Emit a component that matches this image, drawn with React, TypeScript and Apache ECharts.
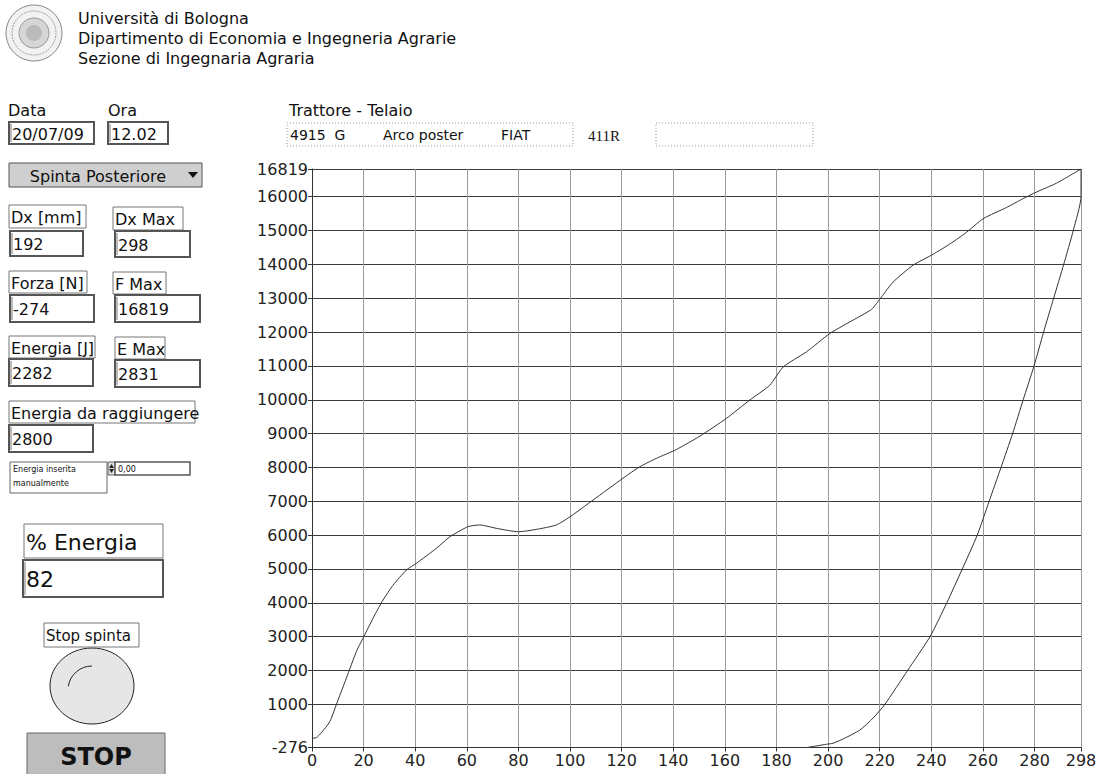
import React, { useEffect, useRef } from "react";
import * as echarts from "echarts";

// Loading branch (Dx [mm], Forza [N])
const dxLoad = [0, 1.7, 3.6, 6.9, 10.1, 13.3, 17.2, 20.4, 24.3, 27.5, 31.4, 36.6, 40.5, 48.2, 53.4, 60.5, 65, 71.5, 80, 87, 94.7, 100.5, 108.9, 120.5, 127, 133.5, 141.2, 150.3, 160.6, 169.6, 177.4, 182.6, 191.6, 200.7, 208.4, 216.8, 220.7, 225.2, 232.9, 240.7, 246.5, 253, 260.1, 269.1, 275.6, 280.8, 288.5, 298];
const forceLoad = [0, 15, 160, 490, 1130, 1770, 2560, 3050, 3640, 4080, 4520, 4970, 5170, 5610, 5950, 6250, 6300, 6200, 6100, 6170, 6300, 6570, 7035, 7680, 8020, 8270, 8530, 8925, 9450, 9990, 10430, 10970, 11415, 11960, 12300, 12670, 13040, 13480, 13975, 14300, 14570, 14910, 15350, 15680, 15945, 16140, 16400, 16819];
// Unloading branch
const dxUnload = [298, 298, 295, 291.3, 287.4, 283.5, 279.8, 275.6, 271.5, 267, 262.4, 257.8, 252, 246, 239.5, 230.8, 222, 217.5, 212.3, 205.8, 201.9, 199.4, 192];
const forceUnload = [16819, 16000, 15000, 14000, 13000, 12000, 11000, 10000, 9000, 8000, 7000, 6000, 5000, 4000, 3000, 2000, 1000, 600, 240, -25, -150, -180, -274];

const xTicks = [0, 20, 40, 60, 80, 100, 120, 140, 160, 180, 200, 220, 240, 260, 280, 298];
const yTicks = [-276, 1000, 2000, 3000, 4000, 5000, 6000, 7000, 8000, 9000, 10000, 11000, 12000, 13000, 14000, 15000, 16000, 16819];

const headerLines = ["Università di Bologna", "Dipartimento di Economia e Ingegneria Agrarie", "Sezione di Ingegnaria Agraria"];

const FONT = "'DejaVu Sans', Verdana, sans-serif";

function txt(x: number, y: number, text: string, size: number, extra: any = {}) {
  return {
    type: "text",
    style: {
      text,
      x,
      y,
      fill: "#111",
      font: `${extra.weight || "normal"} ${size}px ${extra.family || FONT}`,
      align: extra.align || "left",
      verticalAlign: "middle",
      textAlign: extra.align || "left",
      textVerticalAlign: "middle",
    },
    z: 10,
  };
}

function labelBox(x: number, y: number, w: number, h: number, text: string, size = 16) {
  return [
    { type: "rect", shape: { x, y, width: w, height: h }, style: { fill: "#fff", stroke: "#777", lineWidth: 1 }, z: 5 },
    txt(x + 2, y + h / 2 + 1, text, size),
  ];
}

function valueBox(x: number, y: number, w: number, h: number, text: string, size = 16) {
  return [
    { type: "rect", shape: { x, y, width: w, height: h }, style: { fill: "#fff", stroke: "#555", lineWidth: 2 }, z: 5 },
    { type: "line", shape: { x1: x + 2, y1: y + 2, x2: x + 2, y2: y + h - 2 }, style: { stroke: "#777", lineWidth: 1 }, z: 6 },
    txt(x + 3, y + h / 2 + 1, text, size),
  ];
}

export default function App() {
  const ref = useRef<HTMLDivElement>(null);
  useEffect(() => {
    const chart = echarts.init(ref.current!, null, { renderer: "svg" });
    const loadPts = dxLoad.map((x, i) => [x, forceLoad[i]]);
    const unloadPts = dxUnload.map((x, i) => [x, forceUnload[i]]);

    const g: any[] = [];
    // logo
    g.push({ type: "circle", shape: { cx: 34, cy: 33, r: 28 }, style: { fill: "#f2f2f2", stroke: "#888", lineWidth: 1 } });
    g.push({ type: "circle", shape: { cx: 34, cy: 33, r: 22 }, style: { fill: "none", stroke: "#999", lineWidth: 1, lineDash: [2, 1] } });
    g.push({ type: "circle", shape: { cx: 34, cy: 33, r: 15 }, style: { fill: "#d6d6d6", stroke: "#999", lineWidth: 1 } });
    g.push({ type: "circle", shape: { cx: 34, cy: 33, r: 8 }, style: { fill: "#bbb", stroke: "none" } });
    headerLines.forEach((t, i) => g.push(txt(78, 18 + i * 20, t, 16)));

    // date / time
    g.push(txt(8, 110, "Data", 16));
    g.push(txt(108, 110, "Ora", 16));
    g.push(...valueBox(9, 122, 85, 22, "20/07/09", 16));
    g.push(...valueBox(108, 122, 60, 22, "12.02", 16));

    // tractor
    g.push(txt(289, 110, "Trattore - Telaio", 16));
    g.push({ type: "rect", shape: { x: 287, y: 123, width: 286, height: 23 }, style: { fill: "#fff", stroke: "#999", lineWidth: 1, lineDash: [1, 2] } });
    g.push({ type: "rect", shape: { x: 656, y: 123, width: 157, height: 23 }, style: { fill: "#fff", stroke: "#999", lineWidth: 1, lineDash: [1, 2] } });
    g.push(txt(290, 135, "4915  G", 14));
    g.push(txt(383, 135, "Arco poster", 14));
    g.push(txt(501, 135, "FIAT", 14));
    g.push(txt(588, 136, "411R", 15, { family: "'Liberation Serif', serif" }));

    // dropdown
    g.push({ type: "rect", shape: { x: 9, y: 163, width: 193, height: 24 }, style: { fill: "#cfcfcf", stroke: "#555", lineWidth: 1 } });
    g.push(txt(98, 176, "Spinta Posteriore", 16, { align: "center" }));
    g.push({ type: "polygon", shape: { points: [[188, 172], [198, 172], [193, 178]] }, style: { fill: "#111" } });

    // numeric fields
    g.push(...labelBox(9, 205, 77, 23, "Dx [mm]"));
    g.push(...labelBox(113, 207, 70, 23, "Dx Max"));
    g.push(...valueBox(10, 231, 73, 25, "192"));
    g.push(...valueBox(115, 231, 75, 26, "298"));
    g.push(...labelBox(9, 271, 78, 22, "Forza [N]"));
    g.push(...labelBox(113, 272, 53, 22, "F Max"));
    g.push(...valueBox(10, 295, 84, 27, "-274"));
    g.push(...valueBox(115, 295, 85, 27, "16819"));
    g.push(...labelBox(9, 336, 86, 22, "Energia [J]"));
    g.push(...labelBox(115, 337, 50, 22, "E Max"));
    g.push(...valueBox(9, 359, 84, 27, "2282"));
    g.push(...valueBox(115, 360, 85, 27, "2831"));
    g.push(...labelBox(9, 401, 186, 22, "Energia da raggiungere"));
    g.push(...valueBox(9, 425, 84, 27, "2800"));

    // manual energy
    g.push({ type: "rect", shape: { x: 10, y: 462, width: 97, height: 31 }, style: { fill: "#fff", stroke: "#666", lineWidth: 1 } });
    g.push(txt(13, 469, "Energia inserita", 8));
    g.push(txt(13, 483, "manualmente", 8));
    g.push({ type: "rect", shape: { x: 108, y: 462, width: 7, height: 13 }, style: { fill: "#ddd", stroke: "#666", lineWidth: 1 } });
    g.push({ type: "polygon", shape: { points: [[109, 468], [114, 468], [111.5, 464]] }, style: { fill: "#222" } });
    g.push({ type: "polygon", shape: { points: [[109, 469], [114, 469], [111.5, 473]] }, style: { fill: "#222" } });
    g.push({ type: "rect", shape: { x: 115, y: 462, width: 75, height: 13 }, style: { fill: "#fff", stroke: "#555", lineWidth: 1.5 } });
    g.push(txt(118, 469, "0,00", 8));

    // % energia
    g.push(...labelBox(24, 524, 139, 34, "% Energia", 22));
    g.push(...valueBox(23, 560, 140, 37, "82", 22));

    // stop
    g.push(...labelBox(44, 623, 95, 24, "Stop spinta", 15));
    g.push({ type: "ellipse", shape: { cx: 92, cy: 686, rx: 42, ry: 38 }, style: { fill: "#e6e6e6", stroke: "#222", lineWidth: 1 } });
    g.push({ type: "arc", shape: { cx: 92, cy: 690, r: 24, startAngle: Math.PI * 1.05, endAngle: Math.PI * 1.5 }, style: { stroke: "#222", fill: "none", lineWidth: 1 } });
    g.push({ type: "rect", shape: { x: 27, y: 733, width: 138, height: 45 }, style: { fill: "#bdbdbd", stroke: "#666", lineWidth: 1 } });
    g.push(txt(96, 757, "STOP", 24, { align: "center", weight: "bold" }));

    chart.setOption({
      animation: false,
      backgroundColor: "#fff",
      grid: { left: 312, right: 21, top: 169, bottom: 26.5, containLabel: false },
      xAxis: {
        type: "value",
        min: 0,
        max: 298,
        axisLine: { show: true, onZero: false, lineStyle: { color: "#333", width: 1 } },
        axisTick: { show: true, length: 4, customValues: xTicks, lineStyle: { color: "#333" } },
        axisLabel: { customValues: xTicks, fontSize: 16, color: "#222", fontFamily: FONT, margin: 5, formatter: (v: number) => String(v) },
        splitLine: { show: true, lineStyle: { color: "#9a9a9a", width: 1 } },
      },
      yAxis: {
        type: "value",
        min: -276,
        max: 16819,
        axisLine: { show: true, onZero: false, lineStyle: { color: "#333", width: 1 } },
        axisTick: { show: true, length: 4, customValues: yTicks, lineStyle: { color: "#333" } },
        axisLabel: { customValues: yTicks, fontSize: 16, color: "#222", fontFamily: FONT, margin: 4, formatter: (v: number) => String(v) },
        splitLine: { show: true, lineStyle: { color: "#3a3a3a", width: 1 } },
      },
      series: [
        {
          type: "line",
          name: "Forza",
          data: loadPts.concat(unloadPts),
          showSymbol: false,
          symbol: "none",
          smooth: 0.2,
          lineStyle: { color: "#333", width: 1 },
          z: 5,
        },
      ],
      graphic: g,
    });
    return () => chart.dispose();
  }, []);
  return (
    <div
      ref={ref}
      style={{ position: "fixed", left: 0, top: 0, width: 1102, height: 774, background: "#fff" }}
    />
  );
}
